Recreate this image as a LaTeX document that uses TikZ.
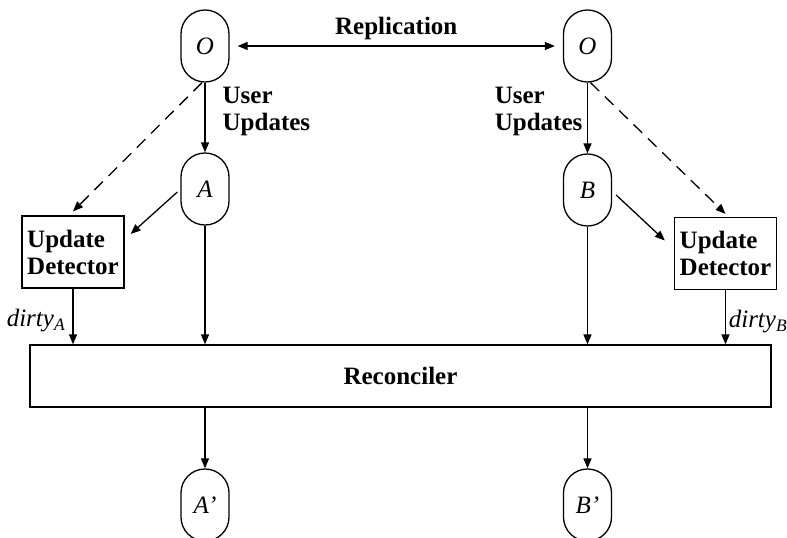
\documentclass[tikz,border=0pt]{standalone}
\usepackage{fontspec}
\setmainfont{Liberation Serif}
\usetikzlibrary{arrows.meta}

\newcommand{\diagfont}{\fontsize{25}{27}\selectfont}

\tikzset{
  replica/.style={draw, rectangle, rounded corners=23.9pt, minimum width=48pt,
    minimum height=72pt, inner sep=0pt, font=\diagfont\itshape},
  detbox/.style={draw, rectangle, minimum width=102pt, minimum height=72pt,
    inner sep=0pt, align=left, font=\diagfont\bfseries},
  lbl/.style={inner sep=0pt, align=left, font=\diagfont\bfseries},
  dirtylbl/.style={inner sep=0pt, font=\diagfont\itshape},
  >={Triangle[length=10pt,width=8pt]}
}

\begin{document}
\begin{tikzpicture}[x=1pt,y=-1pt,line width=1.3pt]
  \useasboundingbox (0,0) rectangle (787,538);
  % replicas
  \node[replica] (oL) at (205,46) {O};
  \node[replica] (oR) at (587.5,46) {O};
  \node[replica] (a) at (205,189) {A};
  \node[replica] (b) at (587.5,190) {B};
  \node[replica] (aNew) at (205,505) {A'};
  \node[replica] (bNew) at (587.5,505) {B'};
  % detectors, reconciler
  \node[detbox] (detL) at (73,252) {Update\\Detector};
  \node[detbox] (detR) at (725.5,253.5) {Update\\Detector};
  \node[draw, minimum width=741pt, minimum height=62pt, inner sep=0pt,
    font=\diagfont\bfseries] (recon) at (400.5,376) {Reconciler};

  \draw[<->, shorten <=8pt, shorten >=8pt] (oL) -- node[lbl, above=6pt] (repl) {Replication} (oR);

  \draw[->] (oL) -- (a);
  \node[lbl, anchor=west] (updL) at (222,111) {User\\Updates};
  \draw[->] (oR) -- (b);
  \node[lbl, anchor=east] (updR) at (583,111) {User\\Updates};

  \draw[->, dash pattern=on 12pt off 8pt] ([xshift=-3pt]oL.south) -- ([yshift=4pt]detL.north);
  \draw[->, dash pattern=on 12pt off 8pt] ([xshift=3pt]oR.south) -- ([yshift=3pt]detR.north);
  \draw[->] ([xshift=-3pt,yshift=-3pt]a.west) -- ([xshift=6pt,yshift=18pt]detL.east);
  \draw[->] ([xshift=4pt,yshift=-5pt]b.east) -- ([xshift=-9pt,yshift=13pt]detR.west);

  \draw[->] (detL.south) -- (detL.south |- recon.north);
  \node[dirtylbl] (dirtyA) at (36,321) {dirty\textsubscript{A}};
  \draw[->] (a.south) -- (a.south |- recon.north);
  \draw[->] (b.south) -- (b.south |- recon.north);
  \draw[->] (detR.south) -- (detR.south |- recon.north);
  \node[dirtylbl] (dirtyB) at (758,322) {dirty\textsubscript{B}};

  \draw[->] (aNew.north |- recon.south) -- (aNew);
  \draw[->] (bNew.north |- recon.south) -- (bNew);
\end{tikzpicture}
\end{document}
